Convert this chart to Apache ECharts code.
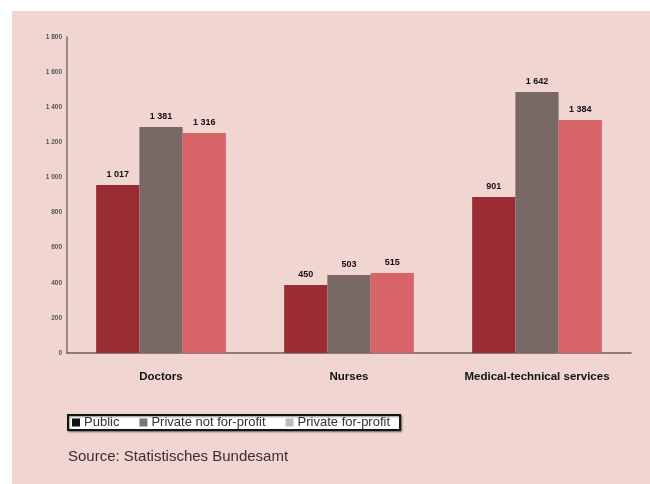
<!DOCTYPE html>
<html><head><meta charset="utf-8">
<script src="https://cdn.jsdelivr.net/npm/echarts@6/dist/echarts.min.js"></script>
<style>
html,body{margin:0;padding:0;background:#fff;}
#bg{position:absolute;left:12px;top:11px;width:638px;height:473px;background:#f0d5d0;}
#chart{position:absolute;left:0;top:0;width:650px;height:484px;}
</style></head>
<body><div id="bg"></div><div id="chart"></div>
<script>
var categories = ['Doctors', 'Nurses', 'Medical-technical services'];
var seriesNames = ['Public', 'Private not for-profit', 'Private for-profit'];
// bar heights
var publicVals = [957, 387, 888];
var privateNotForProfitVals = [1287, 444, 1486];
var privateForProfitVals = [1253, 456, 1327];
// value labels as printed above the bars
var publicLabels = ['1 017', '450', '901'];
var privateNotForProfitLabels = ['1 381', '503', '1 642'];
var privateForProfitLabels = ['1 316', '515', '1 384'];
var yTicks = [0, 200, 400, 600, 800, 1000, 1200, 1400, 1600, 1800];
var sourceText = 'Source: Statistisches Bundesamt';

var colors = ['#992d33', '#786866', '#d66468'];
var legendColors = ['#111111', '#777777', '#bbbbbb'];
var allVals = [publicVals, privateNotForProfitVals, privateForProfitVals];
var allLabels = [publicLabels, privateNotForProfitLabels, privateForProfitLabels];

function fmt(v){ return v >= 1000 ? Math.floor(v/1000) + ' ' + String(v%1000).padStart(3,'0') : String(v); }

var chart = echarts.init(document.getElementById('chart'), null, {renderer:'canvas'});
chart.setOption({
  backgroundColor: 'transparent',
  animation: false,
  grid: {left: 67, top: 37, width: 564, height: 316},
  legend: {
    left: 68, top: 415, orient: 'horizontal',
    data: seriesNames.map(function(n,i){ return {name:n, itemStyle:{color:legendColors[i]}}; }),
    backgroundColor: '#ffffff', borderColor: '#151515', borderWidth: 2,
    padding: [1, 10, 1, 4], itemGap: 20, itemWidth: 8, itemHeight: 8,
    shadowColor: 'rgba(0,0,0,0.45)', shadowBlur: 2, shadowOffsetX: 1, shadowOffsetY: 1,
    textStyle: {fontFamily: 'Liberation Sans, Arial', fontSize: 13, color: '#333', padding: [0,0,0,-1]},
    icon: 'rect'
  },
  graphic: [{
    type: 'text', left: 68, top: 449,
    style: {text: sourceText, fontFamily: 'Liberation Sans, Arial', fontSize: 15, fill: '#3a3030'}
  }],
  xAxis: {
    type: 'category', data: categories,
    axisLine: {lineStyle: {color: '#6a5f5f', width: 1.5}},
    axisTick: {show: false},
    axisLabel: {interval: 0, hideOverlap: false, fontFamily: 'Liberation Sans, Arial', fontSize: 11.5, fontWeight: 'bold', color: '#111', margin: 18}
  },
  yAxis: {
    type: 'value', min: 0, max: yTicks[yTicks.length-1], interval: yTicks[1]-yTicks[0],
    splitLine: {show: false},
    axisLine: {show: true, lineStyle: {color: '#7a6e6e', width: 1.5}},
    axisTick: {show: false},
    axisLabel: {formatter: fmt, fontFamily: 'Liberation Sans, Arial', fontSize: 6.5, fontWeight: 'bold', color: '#555', margin: 5}
  },
  series: seriesNames.map(function(n, si){
    return {
      name: n, type: 'bar', data: allVals[si],
      barGap: '0%', barCategoryGap: '31%',
      itemStyle: {color: colors[si]},
      label: {
        show: true, position: 'top', distance: 6,
        formatter: function(p){ return allLabels[si][p.dataIndex]; },
        fontFamily: 'Liberation Sans, Arial', fontSize: 9, fontWeight: 'bold', color: '#111'
      }
    };
  })
});
</script></body></html>
